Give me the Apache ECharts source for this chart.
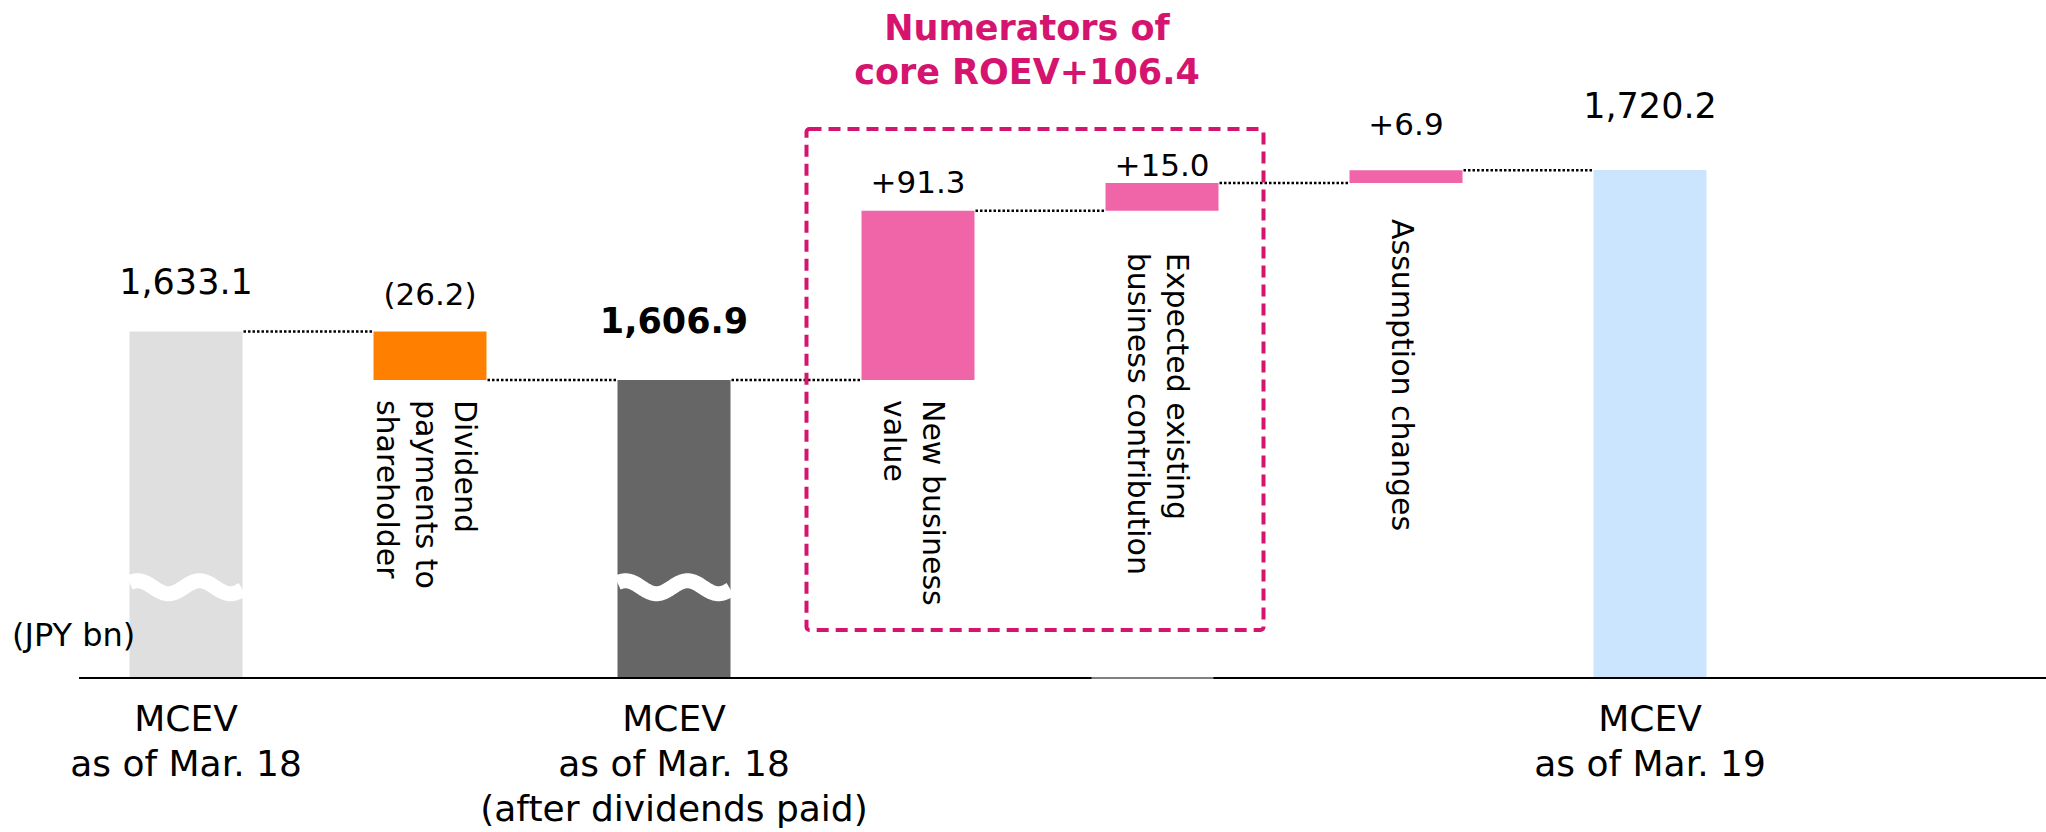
<!DOCTYPE html>
<html><head><meta charset="utf-8">
<script src="https://cdn.jsdelivr.net/npm/echarts@6/dist/echarts.min.js"></script>
<style>html,body{margin:0;padding:0;background:#fff}#c{width:2046px;height:832px}</style>
</head><body><div id="c"></div>
<script>
// ---------- data ----------
const categories = [
  'MCEV\nas of Mar. 18',
  'Dividend\npayments to\nshareholder',
  'MCEV\nas of Mar. 18\n(after dividends paid)',
  'New business\nvalue',
  'Expected existing\nbusiness contribution',
  'Assumption changes',
  'MCEV\nas of Mar. 19'
];
const kinds = ['total', 'delta', 'total', 'delta', 'delta', 'delta', 'total'];
const totals = [1633.1, null, 1606.9, null, null, null, 1720.2];
const deltas = [null, -26.2, null, 91.3, 15.0, 6.9, null];
const valueLabels = ['1,633.1', '(26.2)', '1,606.9', '+91.3', '+15.0', '+6.9', '1,720.2'];
const boxTitle = 'Numerators of\ncore ROEV+106.4';
const unitLabel = '(JPY bn)';

// ---------- layout / style ----------
const FONT = 'DejaVu Sans';
const BAR_W = 113;
const Y_MIN = 1446, Y_MAX = 1812;
const BREAK_VALUE = 1495;
const breakBars = [0, 2];
const barColors = ['#DFDFDF', '#FF8000', '#666666', '#F064A8', '#F064A8', '#F064A8', '#CCE5FF'];
const labelDist = [28, 19, 38, 11, 0, 28, 43];
const textGap = [0, 20, 0, 20, 42, 36, 0];
const PINK_DARK = '#D4146E';

// ---------- derived waterfall geometry (from data) ----------
const base = [], rise = [], level = [];
let run = null;
for (let i = 0; i < kinds.length; i++) {
  if (kinds[i] === 'total') {
    run = totals[i]; base.push(null); rise.push(null);
  } else {
    const d = deltas[i];
    if (d < 0) { base.push(run + d); rise.push(-d); }
    else { base.push(run); rise.push(d); }
    run = run + d;
  }
  level.push(run);
}

const chart = echarts.init(document.getElementById('c'), null, {renderer: 'svg', width: 2046, height: 832});

const baseData = base.map(v => v == null ? '-' : v);
const riseData = rise.map((v, i) => v == null ? '-' : {
  value: v, itemStyle: {color: barColors[i]}, label: {distance: labelDist[i]}
});
const totalData = totals.map((v, i) => v == null ? '-' : {
  value: v, itemStyle: {color: barColors[i]},
  label: {distance: labelDist[i], fontWeight: i === 2 ? 'bold' : 'normal'}
});

const option = {
  animation: false,
  grid: {left: 64, right: 274, top: 0, bottom: 154, outerBoundsMode: 'none'},
  xAxis: {
    type: 'category', data: categories,
    axisLine: {show: false}, axisTick: {show: false}, splitLine: {show: false},
    axisLabel: {
      interval: 0, margin: 18, fontFamily: FONT, fontSize: 36, lineHeight: 45, color: '#000',
      formatter: (v, i) => kinds[i] === 'total' ? v : ''
    }
  },
  yAxis: {type: 'value', min: Y_MIN, max: Y_MAX, show: false},
  series: [
    {type: 'bar', name: 'base', stack: 'w', barWidth: BAR_W, barGap: '-100%', silent: true,
     itemStyle: {color: 'rgba(0,0,0,0)'}, data: baseData},
    {type: 'bar', name: 'change', stack: 'w', barWidth: BAR_W, barGap: '-100%', data: riseData,
     label: {show: true, position: 'top', fontFamily: FONT, fontSize: 31, lineHeight: 36, color: '#000',
             formatter: p => valueLabels[p.dataIndex]}},
    {type: 'bar', name: 'total', barWidth: BAR_W, barGap: '-100%', data: totalData,
     label: {show: true, position: 'top', fontFamily: FONT, fontSize: 35, lineHeight: 42, color: '#000',
             formatter: p => valueLabels[p.dataIndex]}},
    {type: 'custom', name: 'connectors', silent: true, z: 4,
     encode: {x: 0, y: 1},
     data: level.slice(0, -1).map((v, i) => [i, v]),
     renderItem: (params, api) => {
       const i = api.value(0), v = api.value(1);
       const p0 = api.coord([i, v]), p1 = api.coord([i + 1, v]);
       return {type: 'line',
         shape: {x1: p0[0] + BAR_W / 2 + 1, y1: p0[1], x2: p1[0] - BAR_W / 2 - 1, y2: p1[1]},
         style: {stroke: '#000', lineWidth: 2.5, lineDash: [2.5, 2]}};
     }},
    {type: 'custom', name: 'breaks', silent: true, z: 5,
     encode: {x: 0, y: 1},
     data: breakBars.map(i => [i, BREAK_VALUE]),
     renderItem: (params, api) => {
       const c = api.coord([api.value(0), api.value(1)]);
       const left = c[0] - BAR_W / 2;
       const pts = [];
       for (let x = 0; x <= BAR_W; x += 1) {
         pts.push([left + x, c[1] - 6.5 * Math.cos(2 * Math.PI * (x - 8) / 62)]);
       }
       return {type: 'polyline', shape: {points: pts},
         style: {stroke: '#fff', lineWidth: 15, fill: null, lineCap: 'butt'}};
     }},
    {type: 'custom', name: 'names', silent: true, z: 6,
     encode: {x: 0, y: 1},
     data: kinds.map((k, i) => k === 'delta' ? [i, base[i]] : null).filter(d => d),
     renderItem: (params, api) => {
       const i = api.value(0);
       const c = api.coord([i, api.value(1)]);
       return {type: 'text', x: c[0] - 4, y: c[1] + textGap[i], rotation: -Math.PI / 2,
         style: {text: categories[i], fontFamily: FONT, fontSize: 30, lineHeight: 39, fill: '#000',
                 align: 'left', verticalAlign: 'middle'}};
     }}
  ]
};
chart.setOption(option);

const px = i => chart.convertToPixel({xAxisIndex: 0}, i);
const py = v => chart.convertToPixel({yAxisIndex: 0}, v);
const axisY = py(Y_MIN);
const boxL = px(3) - BAR_W / 2 - 55, boxR = px(4) + BAR_W / 2 + 45;
chart.setOption({graphic: [
  {type: 'line', z: 10, shape: {x1: 79, y1: axisY, x2: 2046, y2: axisY}, style: {stroke: '#000', lineWidth: 2}},
  {type: 'line', z: 11, shape: {x1: px(4) - BAR_W / 2 - 14, y1: axisY, x2: px(4) + BAR_W / 2 - 5, y2: axisY},
   style: {stroke: '#808080', lineWidth: 2}},
  {type: 'rect', z: 10, shape: {x: boxL, y: 129, width: boxR - boxL, height: 501, r: 3},
   style: {fill: 'none', stroke: PINK_DARK, lineWidth: 4, lineDash: [12, 7]}},
  {type: 'text', z: 10, x: (boxL + boxR) / 2 - 8, y: 50,
   style: {text: boxTitle, fontFamily: FONT, fontSize: 35, fontWeight: 'bold', lineHeight: 44,
           fill: PINK_DARK, align: 'center', verticalAlign: 'middle'}},
  {type: 'text', z: 10, x: 12, y: 635,
   style: {text: unitLabel, fontFamily: FONT, fontSize: 32, fill: '#000', align: 'left', verticalAlign: 'middle'}}
]});
</script>
</body></html>
